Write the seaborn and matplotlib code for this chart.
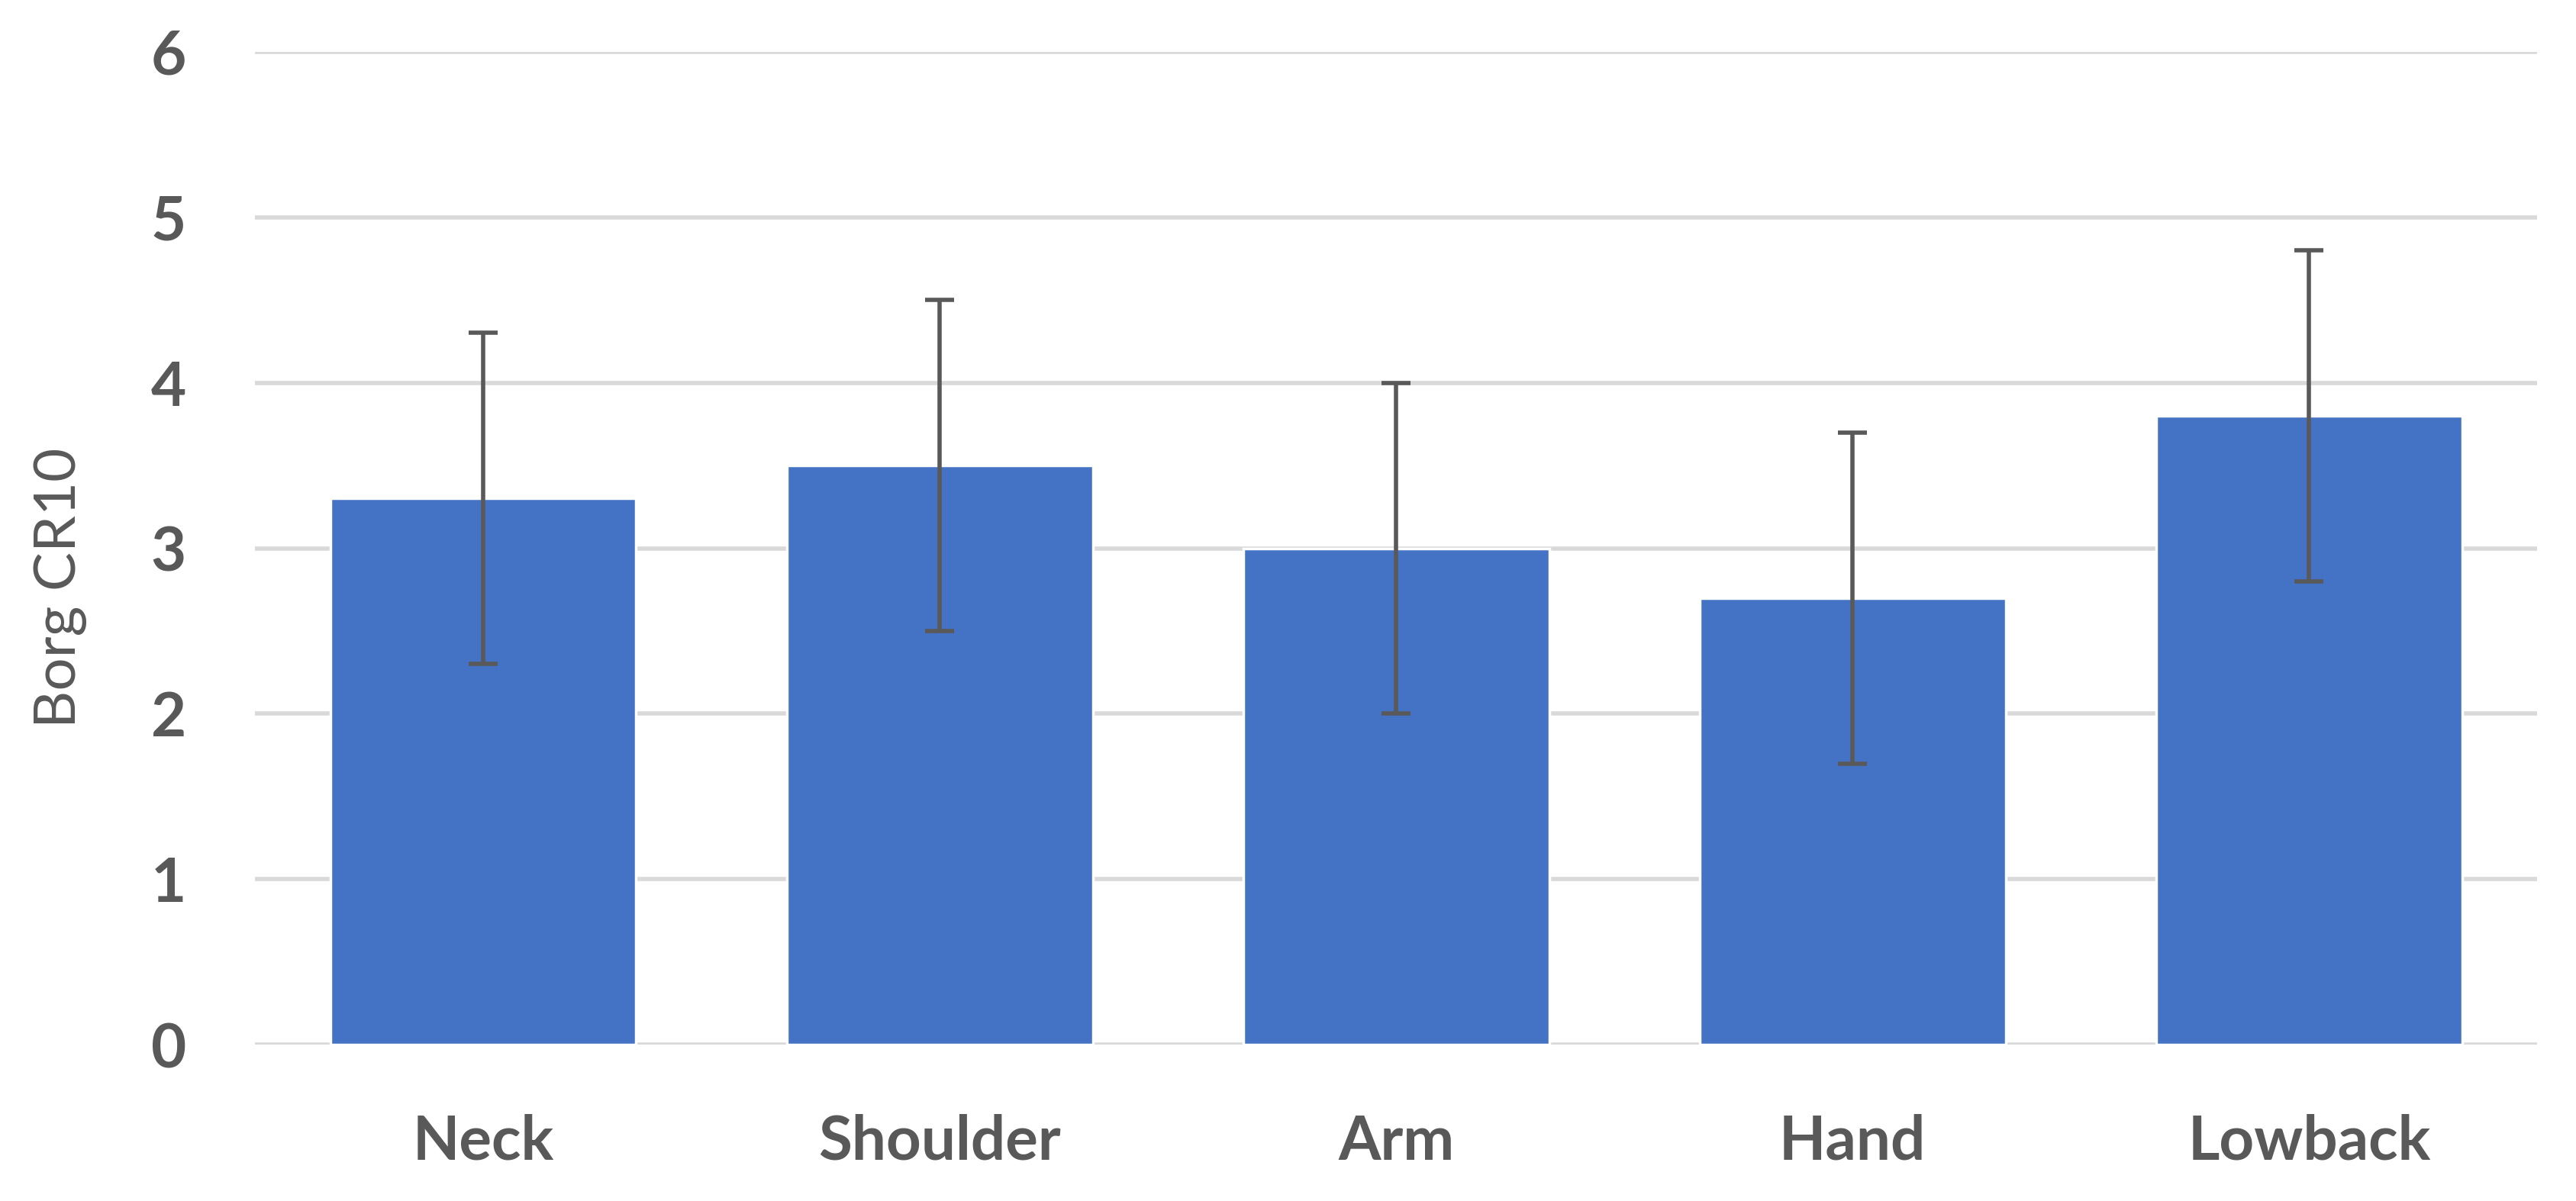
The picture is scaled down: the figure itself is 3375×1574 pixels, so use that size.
import matplotlib
matplotlib.use("Agg")
import matplotlib.pyplot as plt
import seaborn as sns
import pandas as pd

# values
regions = ["Neck", "Shoulder", "Arm", "Hand", "Lowback"]
borg_mean = [3.3, 3.5, 3.0, 2.7, 3.8]
borg_sd = [1.0, 1.0, 1.0, 1.0, 1.0]

df = pd.DataFrame({"region": regions, "borg": borg_mean})

sns.set_style("white")
plt.rcParams['font.family'] = ['Lato', 'DejaVu Sans']

fig = plt.figure(figsize=(13.5, 6.296), dpi=250)
ax = fig.add_axes([0.099, 0.130, 0.886, 0.827])

sns.barplot(data=df, x="region", y="borg", color="#4472C4", saturation=1,
            width=0.67, errorbar=None, ax=ax, zorder=2)

# error bars
ax.errorbar(range(len(regions)), borg_mean, yerr=borg_sd, fmt="none",
            ecolor="#595959", elinewidth=1.6, capsize=5.5, capthick=1.6, zorder=3)

ax.set_ylim(0, 6)
ax.set_xlim(-0.5, len(regions) - 0.5)
ax.set_yticks(range(0, 7))
ax.yaxis.grid(True, color="#d9d9d9", linewidth=1.6, zorder=0)
ax.set_axisbelow(True)
sns.despine(ax=ax, left=True, bottom=True, top=True, right=True)

ax.tick_params(axis="both", length=0, labelsize=23, labelcolor="#595959")
ax.tick_params(axis="y", pad=26)
ax.tick_params(axis="x", pad=26)
for lbl in ax.get_xticklabels() + ax.get_yticklabels():
    lbl.set_fontweight("bold")

ax.set_xlabel("")
ax.set_ylabel("Borg CR10", fontsize=22, color="#595959", labelpad=24, y=0.46)

plt.savefig("out.png", dpi=250)
